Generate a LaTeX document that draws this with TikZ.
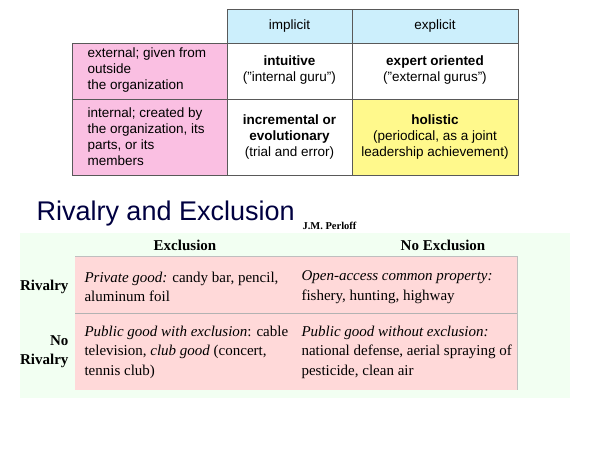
\documentclass[tikz,border=0pt]{standalone}
\usepackage{fontspec}
\setmainfont{Liberation Sans}
\newfontfamily\serif{Liberation Serif}
\begin{document}
\begin{tikzpicture}[x=1pt,y=-1pt,
  cell/.style={draw=gray!70!black,line width=0.8pt},
  txt/.style={font=\fontsize{13.5}{16}\selectfont,align=center},
  ltxt/.style={font=\fontsize{13.5}{16}\selectfont,align=left,anchor=west},
  stxt/.style={font=\serif\fontsize{15}{19.5}\selectfont,align=left,anchor=west},
  hdr/.style={font=\serif\bfseries\fontsize{15}{19}\selectfont}]
\useasboundingbox (0,0) rectangle (600,450);
% top table
\fill[cyan!20] (227,9) rectangle (518,43);
\fill[magenta!25] (72,43) rectangle (227,175);
\fill[yellow!45] (352,99) rectangle (518,175);
\draw[cell] (227,9) rectangle (518,43) (352,9) -- (352,175);
\draw[cell] (72,43) rectangle (518,175) (72,99) -- (518,99) (227,43) -- (227,175);
\node[txt] (h1) at (289.5,26) {implicit};
\node[txt] (h2) at (435,26) {explicit};
\node[ltxt] (r1) at (84,70) {external; given from\\outside\\the organization};
\node[ltxt] (r2) at (84,137) {internal; created by\\the organization, its\\parts, or its\\members};
\node[txt] (c11) at (289.5,70) {\textbf{intuitive}\\("internal guru")};
\node[txt] (c12) at (435,70) {\textbf{expert oriented}\\("external gurus")};
\node[txt] (c21) at (289.5,137) {\textbf{incremental or}\\\textbf{evolutionary}\\(trial and error)};
\node[txt] (c22) at (435,137) {\textbf{holistic}\\(periodical, as a joint\\leadership achievement)};
% bottom
\node[anchor=west,text=blue!25!black,font=\fontsize{27}{30}\selectfont] (title) at (33,214) {Rivalry and Exclusion};
\node[anchor=west,font=\serif\bfseries\fontsize{10.5}{12}\selectfont] (auth) at (299,226) {J.M. Perloff};
\fill[green!5] (20,233) rectangle (570,398);
\fill[red!15] (75,256) rectangle (517,390);
\draw[gray!60,line width=0.8pt] (75,313) -- (517,313);
\draw[gray!50,line width=1pt] (75,256) -- (517,256) -- (517,390);
\node[hdr] (e) at (185,245) {Exclusion};
\node[hdr] (ne) at (443,245) {No Exclusion};
\node[hdr,anchor=east] (rv) at (72,287) {Rivalry};
\node[hdr,anchor=east,align=right] (nrv) at (72,352) {No\\Rivalry};
\node[stxt] (p1) at (81,287) {\textit{Private good:} candy bar, pencil,\\aluminum foil};
\node[stxt] (p2) at (298,287) {\textit{Open-access common property:}\\fishery, hunting, highway};
\node[stxt] (p3) at (81,352) {\textit{Public good with exclusion}: cable\\television, \textit{club good} (concert,\\tennis club)};
\node[stxt] (p4) at (298,352) {\textit{Public good without exclusion:}\\national defense, aerial spraying of\\pesticide, clean air};
\end{tikzpicture}
\end{document}
